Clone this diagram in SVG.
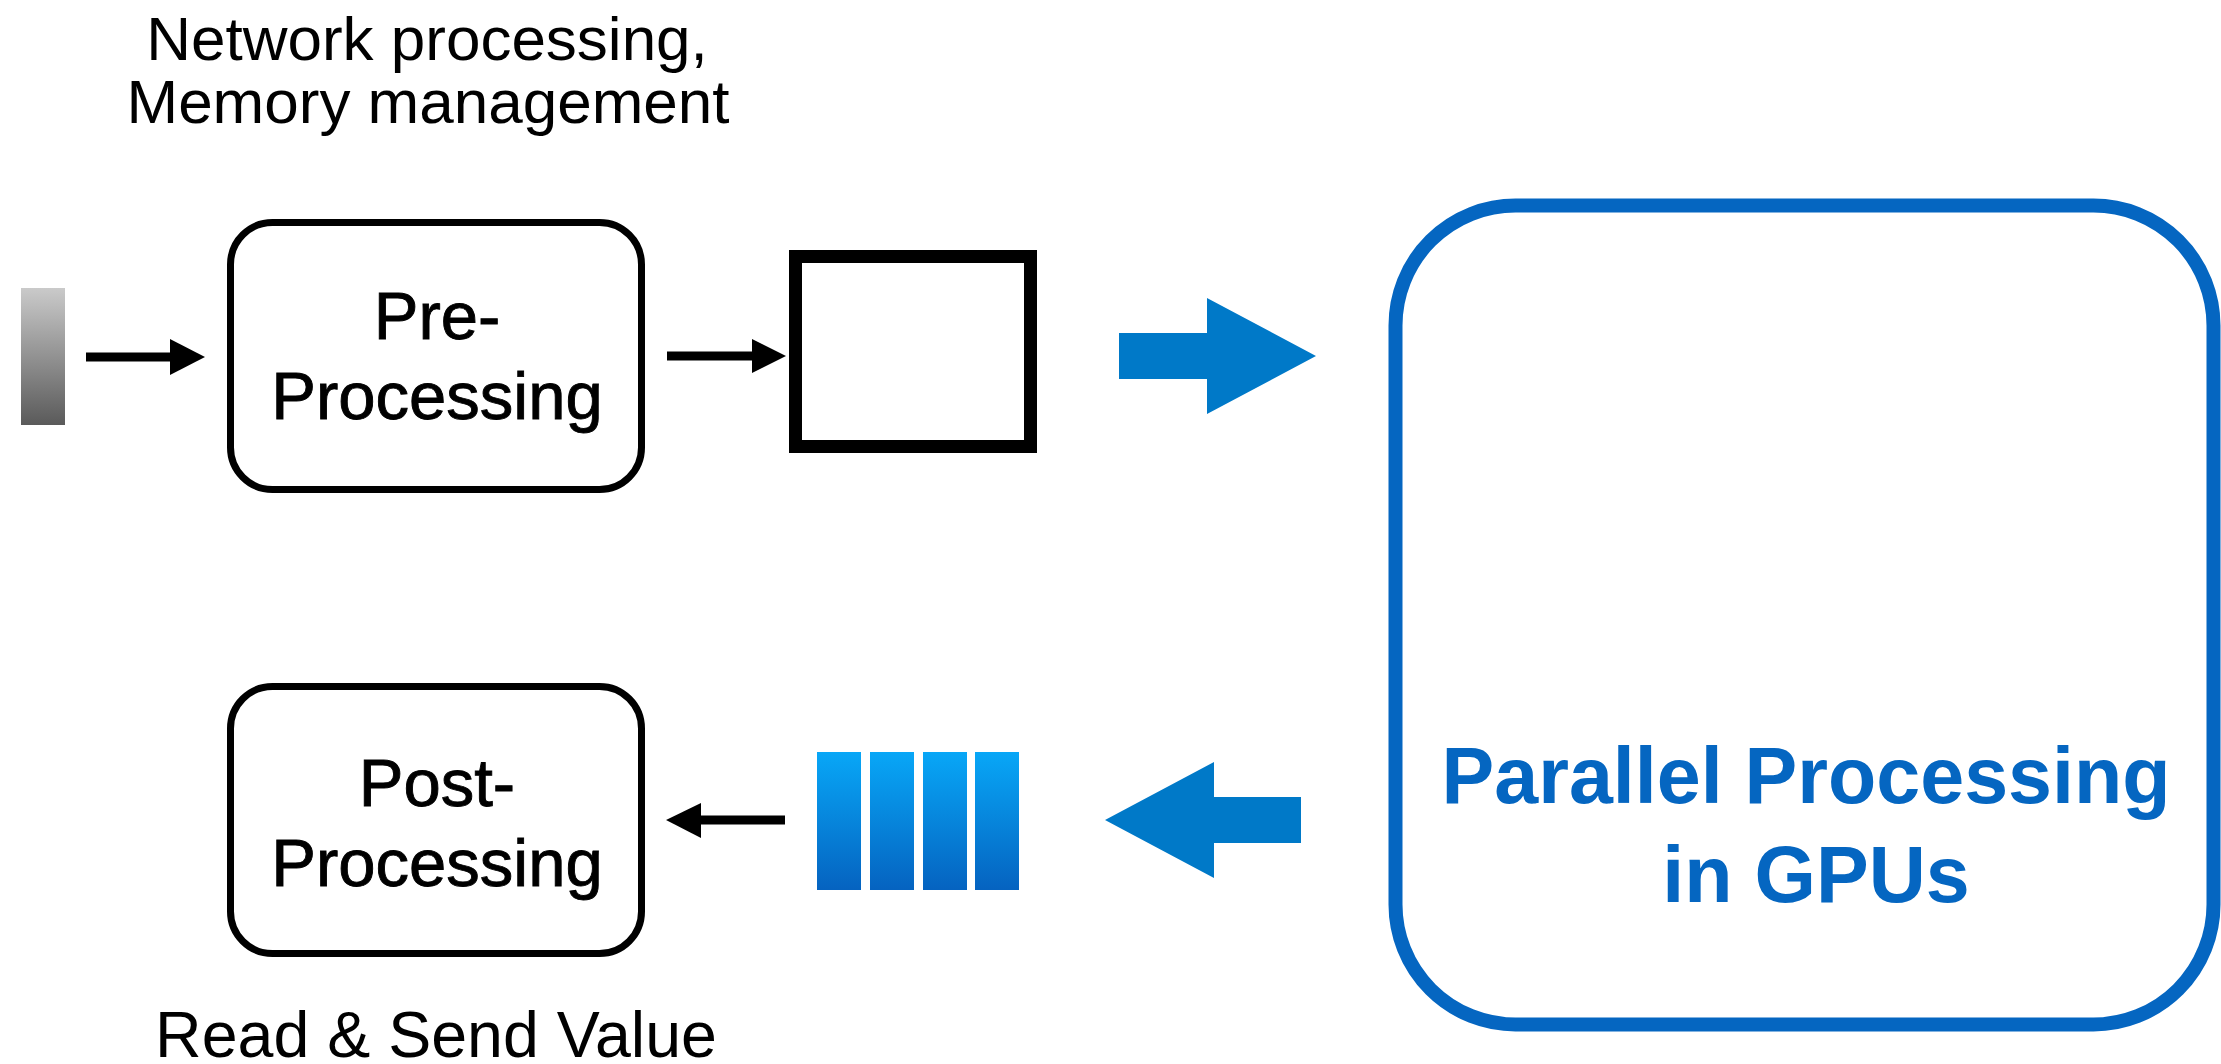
<svg xmlns="http://www.w3.org/2000/svg" width="2221" height="1064" viewBox="0 0 2221 1064">
<defs>
<style>
.lbl{font-family:"Liberation Sans",Arial,sans-serif;font-size:62px;fill:#000;text-anchor:middle}
.lblb{font-family:"Liberation Sans",Arial,sans-serif;font-size:64.5px;fill:#000;text-anchor:middle}
.box{fill:#fff;stroke:#000;stroke-width:7}
.boxt{font-family:"Liberation Sans",Arial,sans-serif;font-size:67px;fill:#000;stroke:#000;stroke-width:0.9px;text-anchor:middle}
.gput{font-family:"Liberation Sans",Arial,sans-serif;font-weight:bold;font-size:79px;fill:#0566C1;text-anchor:middle}
.ln{stroke:#000;stroke-width:9;fill:none}
.hd{fill:#000}
.big{fill:#0079C8}
.bar{fill:url(#blueg)}
</style>
<linearGradient id="grayg" x1="0" y1="0" x2="0" y2="1">
<stop offset="0" stop-color="#cacaca"/>
<stop offset="1" stop-color="#5a5a5a"/>
</linearGradient>
<linearGradient id="blueg" x1="0" y1="0" x2="0" y2="1">
<stop offset="0" stop-color="#08A7F7"/>
<stop offset="1" stop-color="#0563C0"/>
</linearGradient>
</defs>
<rect width="2221" height="1064" fill="#fff"/>

<g id="label-top">
<text class="lbl" x="427" y="60">Network processing,</text>
<text class="lbl" x="428" y="123">Memory management</text>
</g>

<g id="input-packet">
<rect x="21" y="288" width="44" height="137" fill="url(#grayg)"/>
</g>

<g id="pre-processing">
<rect class="box" x="230.5" y="222.5" width="411" height="267" rx="42" ry="42"/>
<text class="boxt" x="437" y="339">Pre-</text>
<text class="boxt" x="437" y="419">Processing</text>
</g>

<g id="buffer">
<rect x="795.5" y="256.5" width="235" height="190" fill="#fff" stroke="#000" stroke-width="13"/>
</g>

<g id="gpu">
<rect x="1395.5" y="205.5" width="818" height="819" rx="120" ry="120" fill="#fff" stroke="#0566C1" stroke-width="14"/>
<text class="gput" x="1806" y="803">Parallel Processing</text>
<text class="gput" x="1816" y="902">in GPUs</text>
</g>

<g id="results">
<rect class="bar" x="817" y="752" width="44" height="138"/>
<rect class="bar" x="870" y="752" width="44" height="138"/>
<rect class="bar" x="923" y="752" width="44" height="138"/>
<rect class="bar" x="975" y="752" width="44" height="138"/>
</g>

<g id="post-processing">
<rect class="box" x="230.5" y="686.5" width="411" height="267" rx="42" ry="42"/>
<text class="boxt" x="437" y="806">Post-</text>
<text class="boxt" x="437" y="886">Processing</text>
</g>

<g id="label-bottom">
<text class="lblb" x="436" y="1057">Read &amp; Send Value</text>
</g>

<g id="connectors">
<line class="ln" x1="86" y1="357" x2="173" y2="357"/>
<polygon class="hd" points="170,339 205,357 170,375"/>
<line class="ln" x1="667" y1="356" x2="755" y2="356"/>
<polygon class="hd" points="752,339 786,356 752,373"/>
<line class="ln" x1="785" y1="820" x2="698" y2="820"/>
<polygon class="hd" points="701,803 666,820 701,838"/>
<polygon class="big" points="1119,333 1207,333 1207,298 1316,356 1207,414 1207,379 1119,379"/>
<polygon class="big" points="1301,797 1214,797 1214,762 1105,820 1214,878 1214,843 1301,843"/>
</g>
</svg>
